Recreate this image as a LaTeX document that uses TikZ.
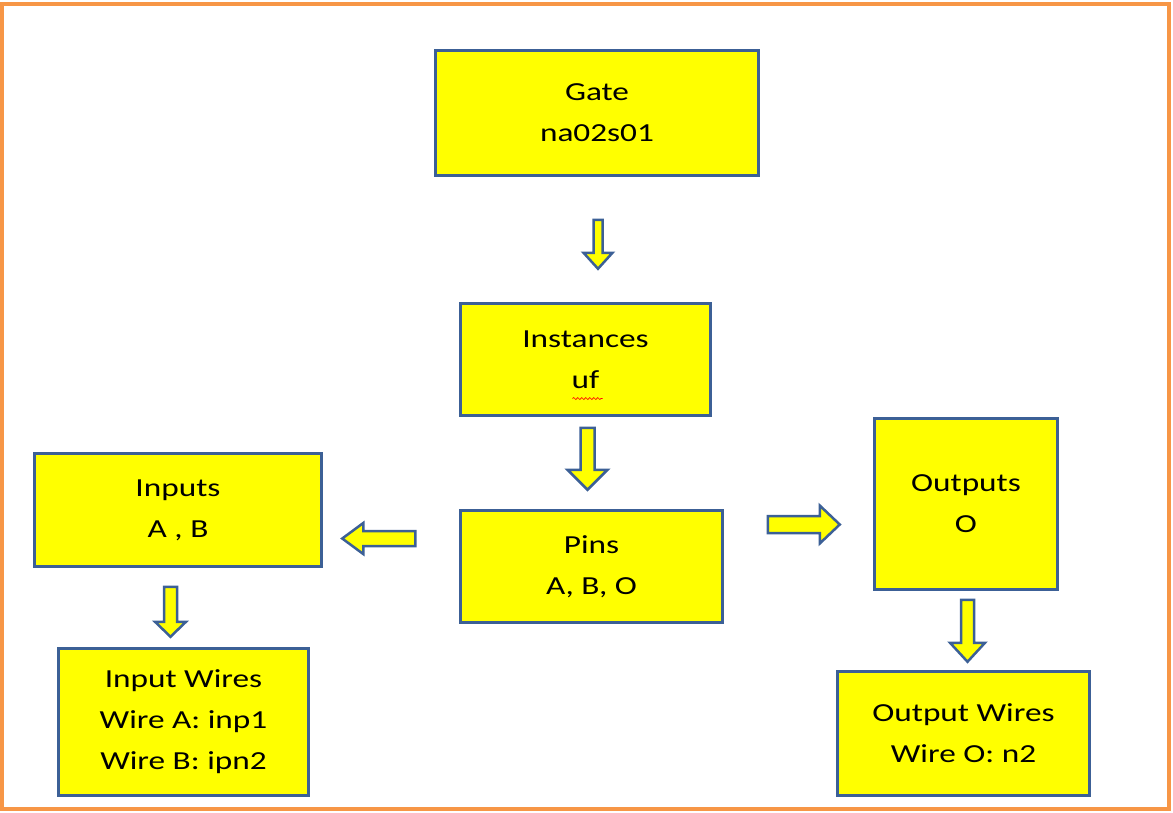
\documentclass[tikz,border=0pt]{standalone}
\usepackage{fontspec}
\setmainfont{Carlito}[FakeStretch=1.28]
\usetikzlibrary{calc, decorations.pathmorphing}

\definecolor{boxfill}{RGB}{255,255,0}
\definecolor{boxline}{RGB}{60,96,150}
\definecolor{frameorange}{RGB}{247,150,70}

\tikzset{
  block/.style={draw=boxline, fill=boxfill, line width=2.5pt, align=center,
    font=\fontsize{26}{41}\selectfont, inner sep=0pt},
  blockarrow/.style={draw=boxline, fill=boxfill, line width=2.5pt, line join=miter},
}

% fat arrow: start, angle, length, shaft width, head width, head length
\newcommand{\fatarrow}[6]{%
  \draw[blockarrow, shift={#1}, rotate=#2]
    (0,{-#4/2}) -- ({#3-#6},{-#4/2}) -- ({#3-#6},{-#5/2}) -- (#3,0)
    -- ({#3-#6},{#5/2}) -- ({#3-#6},{#4/2}) -- (0,{#4/2}) -- cycle;}

\begin{document}
\begin{tikzpicture}[x=1pt, y=-1pt]
  \useasboundingbox (0,0) rectangle (1173,812);
  \draw[frameorange, line width=4pt] (2,3.5) rectangle (1169,808.5);

  % boxes
  \node[block, minimum width=323pt, minimum height=125pt] (gate) at (597,113) {Gate\\na02s01};
  \node[block, minimum width=250pt, minimum height=112pt] (inst) at (585.5,359.5) {Instances\\uf};
  \node[block, minimum width=287pt, minimum height=113pt] (inputs) at (178,510) {Inputs\\A , B};
  \node[block, minimum width=262pt, minimum height=112pt] (pins) at (591.5,566.5) {Pins\\A, B, O};
  \node[block, minimum width=183pt, minimum height=171pt] (outputs) at (966,504) {Outputs\\O};
  \node[block, minimum width=250pt, minimum height=147pt] (inwires) at (183.5,722) {Input Wires\\Wire A: inp1\\Wire B: ipn2};
  \node[block, minimum width=252pt, minimum height=124pt] (outwires) at (963.5,733.5) {Output Wires\\Wire O: n2};

  % spelling mark under uf
  \draw[red, line width=0.7pt, decorate, decoration={snake, amplitude=1pt, segment length=4pt}]
    ($(inst.center)+(-13,39)$) -- ($(inst.center)+(17,39)$);

  % block arrows
  \fatarrow{($(gate.south)+(1,43)$)}{-90}{49}{9}{29}{16}
  \fatarrow{($(inst.south)+(2,11)$)}{-90}{62}{14}{40}{20}
  \fatarrow{($(pins.west)+(-44,-28)$)}{180}{73}{15}{31}{21}
  \fatarrow{($(pins.east)+(44,-42)$)}{0}{72}{17}{38}{20}
  \fatarrow{($(inputs.south)+(-7.5,19)$)}{-90}{50}{13}{31}{15}
  \fatarrow{($(outputs.south)+(1.5,9)$)}{-90}{62}{13}{35}{19}
\end{tikzpicture}
\end{document}
